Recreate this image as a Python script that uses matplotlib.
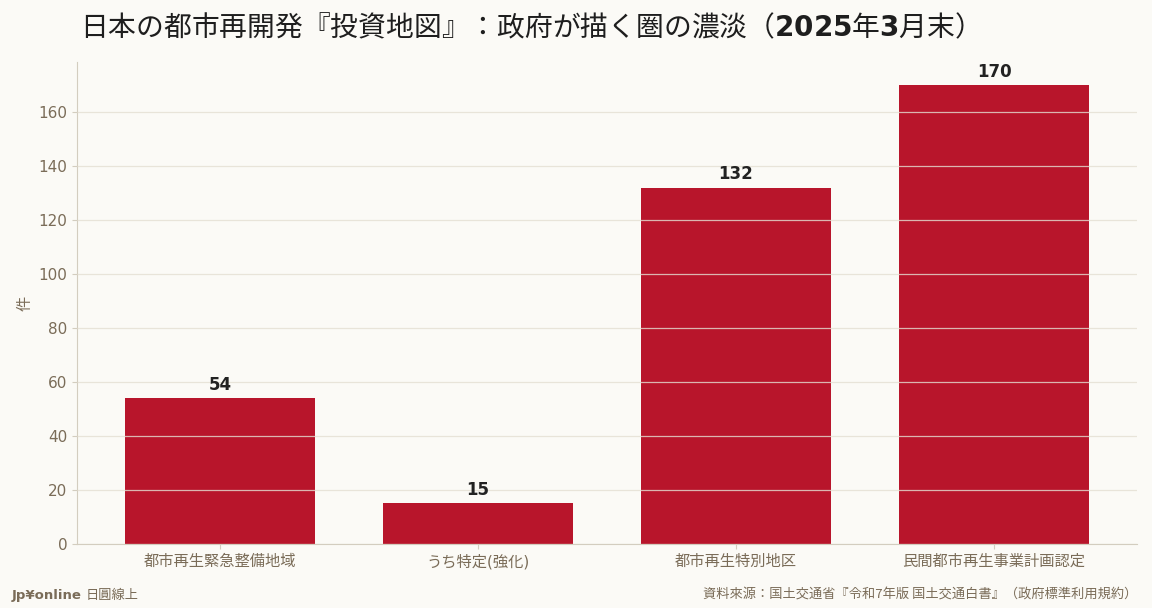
import matplotlib
matplotlib.use("Agg")
import matplotlib.pyplot as plt

categories = ["都市再生緊急整備地域", "うち特定(強化)", "都市再生特別地区", "民間都市再生事業計画認定"]
values = [54, 15, 132, 170]

BG = "#FBFAF6"
BAR = "#B8152B"
TXT = "#7A6C58"
GRID = "#E4DFD2"
SPINE = "#D3CDBF"

plt.rcParams['font.family'] = ['DejaVu Sans', 'Noto Sans CJK JP']

fig = plt.figure(figsize=(11.52, 6.08), dpi=100, facecolor=BG)
ax = fig.add_axes([77/1152, 1-544/608, (1137-77)/1152, (544-62)/608])
ax.set_facecolor(BG)

x = list(range(len(categories)))
bars = ax.bar(x, values, width=0.736, color=BAR, zorder=2)
for xi, v in zip(x, values):
    ax.text(xi, v + 1.6, str(v), ha='center', va='bottom', fontsize=12,
            fontweight='bold', color='#222222', zorder=4)

ax.set_xlim(-0.554, 3.554)
ax.set_ylim(0, max(values) * 1.05)
ax.set_yticks(range(0, 161, 20))
ax.set_xticks(x)
ax.set_xticklabels(categories)
ax.tick_params(axis='both', colors=SPINE, labelcolor=TXT, labelsize=11)
ax.grid(axis='y', color=GRID, linewidth=0.9, alpha=0.8, zorder=3)
ax.set_axisbelow(False)
for s in ['top', 'right']:
    ax.spines[s].set_visible(False)
for s in ['left', 'bottom']:
    ax.spines[s].set_color(SPINE)
ax.set_ylabel("件", color=TXT, fontsize=11)

fig.text(80/1152, 1-28/608, r"日本の都市再開発『投資地図』：政府が描く圏の濃淡（$\mathbf{2025}$年$\mathbf{3}$月末）",
         ha='left', va='center', fontsize=20, color='#1E1E1E',
         family=['Noto Sans CJK JP', 'DejaVu Sans'])
fig.text(12/1152, 1-595/608, "Jp¥online", ha='left', va='center', fontsize=9.5,
         fontweight='bold', color=TXT)
fig.text(86/1152, 1-595/608, "日圓線上", ha='left', va='center', fontsize=9.5, color=TXT)
fig.text(1137/1152, 1-595/608, "資料來源：国土交通省『令和7年版 国土交通白書』（政府標準利用規約）",
         ha='right', va='center', fontsize=9.5, color=TXT,
         family=['Noto Sans CJK JP', 'DejaVu Sans'])

fig.savefig("out.png", dpi=100, facecolor=BG)
